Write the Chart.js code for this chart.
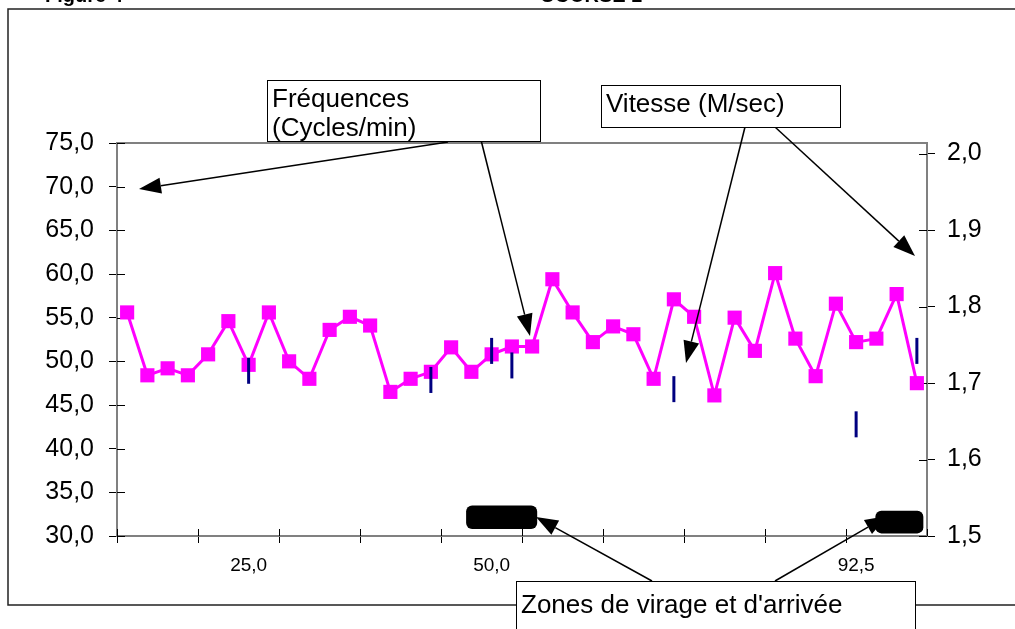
<!DOCTYPE html>
<html>
<head>
<meta charset="utf-8">
<script src="https://cdn.jsdelivr.net/npm/chart.js@4.4.1/dist/chart.umd.min.js"></script>
<style>
html, body { margin: 0; padding: 0; background: #fff; }
</style>
</head>
<body>
<canvas id="chart" width="1015" height="629"></canvas>
<script>
// x categories (only a few are labelled)
const xLabels = [
    '', '', '', '', '', '', '25,0', '', '', '',
    '', '', '', '', '', '', '', '', '50,0', '',
    '', '', '', '', '', '', '', '', '', '',
    '', '', '', '', '', '', '92,5', '', '', ''
];

// Fréquences (cycles/min), left axis
const frequences = [
    55.6, 48.4, 49.2, 48.4, 50.8, 54.6, 49.6, 55.6, 50.0, 48.0,
    53.6, 55.1, 54.1, 46.5, 48.0, 48.8, 51.6, 48.8, 50.8, 51.7,
    51.7, 59.4, 55.6, 52.2, 54.0, 53.1, 48.0, 57.1, 55.1, 46.1,
    55.0, 51.2, 60.1, 52.6, 48.3, 56.6, 52.2, 52.6, 57.7, 47.5
];

// Vitesse (m/sec), right axis
const vitesse = [
    null, null, null, null, null, null, 1.716, null, null, null,
    null, null, null, null, null, 1.704, null, null, 1.742, 1.723,
    null, null, null, null, null, null, null, 1.692, null, null,
    null, null, null, null, null, null, 1.646, null, null, 1.742
];

const leftTicks = [30, 35, 40, 45, 50, 55, 60, 65, 70, 75];
const rightTicks = [1.5, 1.6, 1.7, 1.8, 1.9, 2.0];

// turn / finish zones, in category index and left-axis units
const zones = [
    { from: 16.74, to: 20.25, low: 30.8, high: 33.5 },
    { from: 36.95, to: 39.32, low: 30.3, high: 32.9 }
];

const FONT = '"Liberation Sans", Arial, sans-serif';
const comma = v => v.toFixed(1).replace('.', ',');

function arrow(ctx, x1, y1, x2, y2) {
    const len = 22, half = 8;
    const a = Math.atan2(y2 - y1, x2 - x1);
    const bx = x2 - Math.cos(a) * len, by = y2 - Math.sin(a) * len;
    ctx.beginPath();
    ctx.moveTo(x1, y1);
    ctx.lineTo(bx, by);
    ctx.stroke();
    ctx.beginPath();
    ctx.moveTo(x2, y2);
    ctx.lineTo(bx + Math.sin(a) * half, by - Math.cos(a) * half);
    ctx.lineTo(bx - Math.sin(a) * half, by + Math.cos(a) * half);
    ctx.closePath();
    ctx.fill();
}

function textBox(ctx, x, y, w, h, lines, first, lineH) {
    ctx.fillStyle = '#fff';
    ctx.fillRect(x, y, w, h);
    ctx.strokeStyle = '#000';
    ctx.lineWidth = 1;
    ctx.strokeRect(x + 0.5, y + 0.5, w, h);
    ctx.fillStyle = '#000';
    ctx.font = '26px ' + FONT;
    ctx.textAlign = 'left';
    ctx.textBaseline = 'alphabetic';
    lines.forEach((t, i) => ctx.fillText(t, x + 5, y + first + i * lineH));
}

const framePlugin = {
    id: 'frame',
    beforeDraw(chart) {
        const ctx = chart.ctx;
        ctx.save();
        ctx.fillStyle = '#fff';
        ctx.fillRect(0, 0, chart.width, chart.height);
        ctx.strokeStyle = '#222';
        ctx.lineWidth = 1.5;
        ctx.beginPath();
        ctx.moveTo(1015, 9); ctx.lineTo(8, 9); ctx.lineTo(8, 605); ctx.lineTo(1015, 605);
        ctx.stroke();
        ctx.fillStyle = '#000';
        ctx.font = 'bold 20px ' + FONT;
        ctx.fillText('Figure 4', 45, 2);
        ctx.fillText('COURSE 1', 540, 2);
        ctx.restore();
    },
    beforeDatasetsDraw(chart) {
        const { ctx, chartArea: a } = chart;
        ctx.save();
        ctx.strokeStyle = '#808080';
        ctx.lineWidth = 2;
        ctx.strokeRect(a.left, a.top, a.right - a.left, a.bottom - a.top);
        // inner halves of the crossing tick marks
        ctx.strokeStyle = '#000';
        ctx.lineWidth = 1;
        const y = chart.scales.y, y1 = chart.scales.y1, x = chart.scales.x;
        leftTicks.forEach(v => {
            const p = Math.round(y.getPixelForValue(v)) + 0.5;
            ctx.beginPath(); ctx.moveTo(a.left, p); ctx.lineTo(a.left + 8, p); ctx.stroke();
        });
        rightTicks.forEach(v => {
            const p = Math.round(y1.getPixelForValue(v)) + 0.5;
            ctx.beginPath(); ctx.moveTo(a.right - 8, p); ctx.lineTo(a.right, p); ctx.stroke();
        });
        for (let i = 0; i <= xLabels.length; i += 4) {
            const p = Math.round(x.getPixelForValue(i - 0.5)) + 0.5;
            ctx.beginPath(); ctx.moveTo(p, a.bottom - 7); ctx.lineTo(p, a.bottom); ctx.stroke();
        }
        ctx.restore();
    },
    afterDraw(chart) {
        const ctx = chart.ctx;
        const x = chart.scales.x, y = chart.scales.y;
        ctx.save();
        // zones
        ctx.fillStyle = '#000';
        zones.forEach(z => {
            const l = x.getPixelForValue(z.from), r = x.getPixelForValue(z.to);
            const t = y.getPixelForValue(z.high), b = y.getPixelForValue(z.low);
            ctx.beginPath();
            ctx.roundRect(l, t, r - l, b - t, 6);
            ctx.fill();
        });
        // callouts
        ctx.strokeStyle = '#000';
        ctx.fillStyle = '#000';
        ctx.lineWidth = 1.5;
        arrow(ctx, 448, 142, 139, 189);
        arrow(ctx, 480, 136, 530, 336);
        arrow(ctx, 745, 127, 686, 363);
        arrow(ctx, 775, 127, 915, 256);
        arrow(ctx, 652, 581, 536, 517);
        arrow(ctx, 775, 581, 887, 516);
        textBox(ctx, 267, 80, 273, 61, ['Fréquences', '(Cycles/min)'], 27, 29);
        textBox(ctx, 601, 85, 239, 42, ['Vitesse (M/sec)'], 27, 29);
        textBox(ctx, 516, 581, 399, 60, ["Zones de virage et d'arrivée"], 32, 29);
        ctx.restore();
    }
};

new Chart(document.getElementById('chart'), {
    type: 'line',
    data: {
        labels: xLabels,
        datasets: [
            {
                label: 'Vitesse (M/sec)',
                data: vitesse,
                yAxisID: 'y1',
                showLine: false,
                pointStyle: 'line',
                rotation: 90,
                pointRadius: 13,
                pointBorderWidth: 3,
                pointBorderColor: '#000080',
                pointBackgroundColor: '#000080'
            },
            {
                label: 'Fréquences (Cycles/min)',
                data: frequences,
                yAxisID: 'y',
                borderColor: '#ff00ff',
                borderWidth: 3,
                tension: 0,
                pointStyle: 'rect',
                pointRadius: 10,
                pointBorderWidth: 0,
                pointBackgroundColor: '#ff00ff',
                pointBorderColor: '#ff00ff'
            }
        ]
    },
    options: {
        responsive: false,
        animation: false,
        events: [],
        layout: { padding: { top: 143, left: 0, right: 0, bottom: 0 } },
        plugins: { legend: { display: false }, tooltip: { enabled: false } },
        scales: {
            x: {
                offset: true,
                grid: {
                    offset: true,
                    drawOnChartArea: false,
                    tickLength: 7,
                    color: c => (c.index % 4 === 0 ? '#000' : 'rgba(0,0,0,0)')
                },
                border: { display: true, color: '#333', width: 2 },
                ticks: {
                    autoSkip: false,
                    maxRotation: 0,
                    color: '#000',
                    padding: 11,
                    font: { family: FONT, size: 19 }
                },
                afterFit: s => { s.height = 93; }
            },
            y: {
                position: 'left',
                min: 30,
                max: 75,
                grid: { drawOnChartArea: false, tickLength: 8, color: '#000' },
                border: { display: true, color: '#000', width: 2 },
                afterBuildTicks: s => { s.ticks = leftTicks.map(v => ({ value: v })); },
                ticks: {
                    color: '#000',
                    padding: 15,
                    font: { family: FONT, size: 25 },
                    callback: v => comma(v)
                },
                afterFit: s => { s.width = 117; }
            },
            y1: {
                position: 'right',
                min: 1.5,
                max: 2.0138,
                grid: { drawOnChartArea: false, tickLength: 8, color: '#000' },
                border: { display: true, color: '#000', width: 2 },
                afterBuildTicks: s => { s.ticks = rightTicks.map(v => ({ value: v })); },
                ticks: {
                    color: '#000',
                    padding: 12,
                    font: { family: FONT, size: 25 },
                    callback: v => comma(v)
                },
                afterFit: s => { s.width = 88; }
            }
        }
    },
    plugins: [framePlugin]
});
</script>
</body>
</html>
